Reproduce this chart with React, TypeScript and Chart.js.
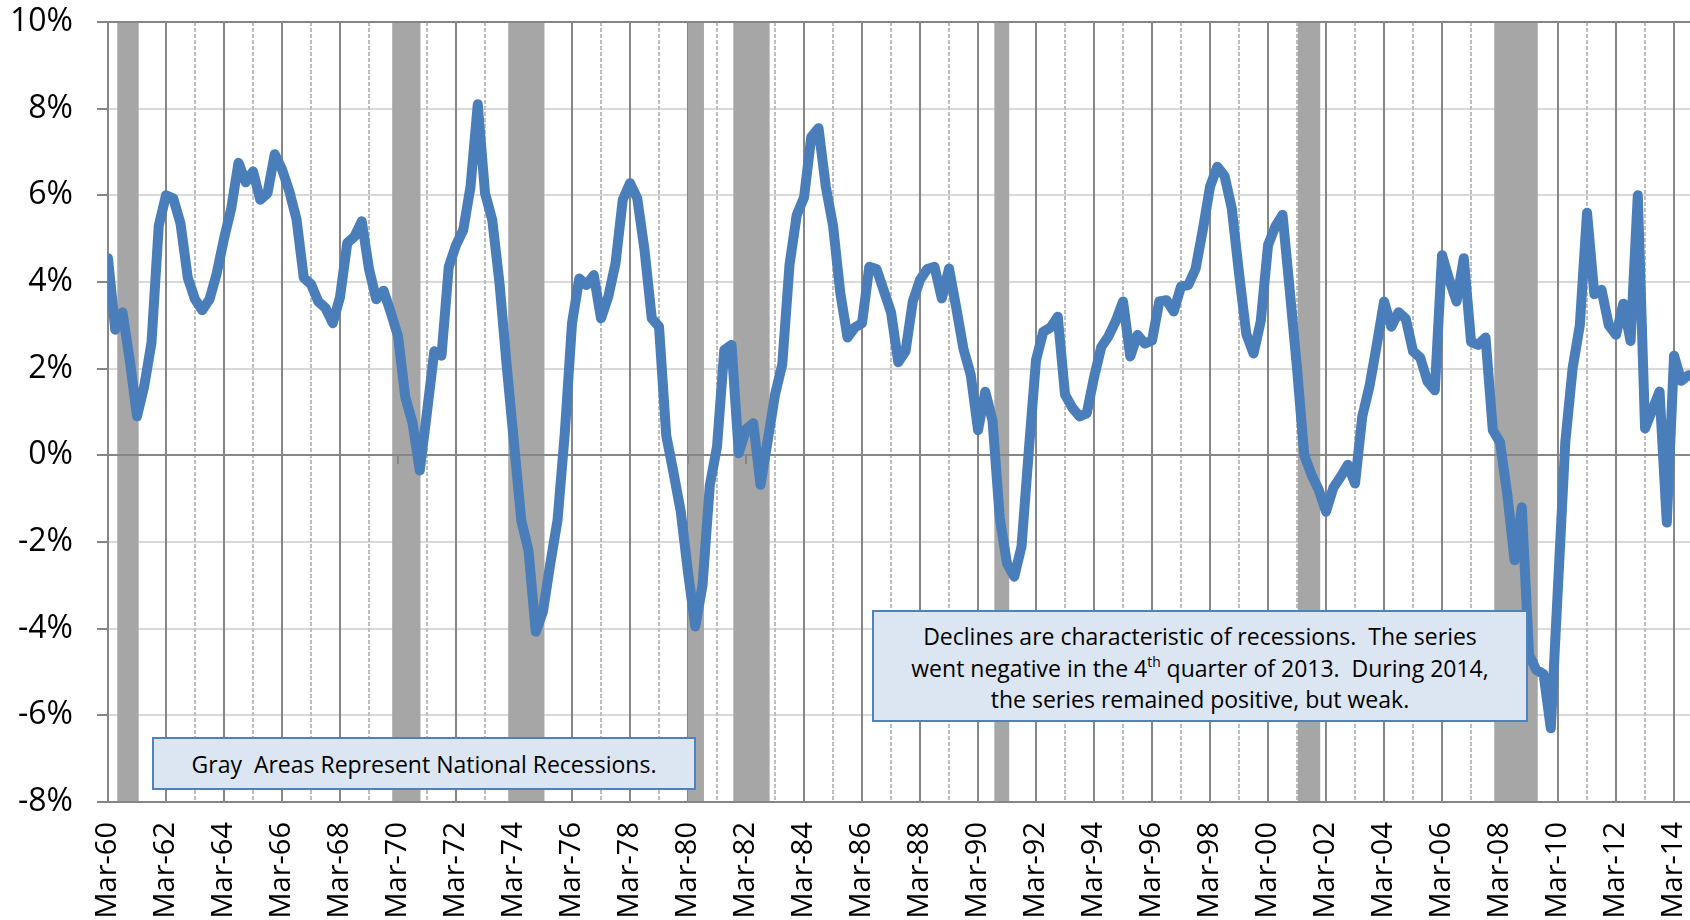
import React, { useEffect, useRef } from "react";
import { Chart, registerables } from "chart.js";

Chart.register(...registerables);

// ---- data ----
const START_YEAR = 1960;
const QUARTER_MONTHS = ["Mar", "Jun", "Sep", "Dec"];

// quarterly series, % (Mar-60 ... Sep-14), four values per year
const VALUES: number[] = [
  4.55, 2.9, 3.3, 2.2, // 1960
  0.9, 1.6, 2.6, 5.3, // 1961
  6.0, 5.93, 5.35, 4.1, // 1962
  3.6, 3.35, 3.6, 4.2, // 1963
  5.0, 5.7, 6.75, 6.3, // 1964
  6.55, 5.9, 6.05, 6.95, // 1965
  6.6, 6.1, 5.45, 4.1, // 1966
  3.95, 3.55, 3.4, 3.05, // 1967
  3.65, 4.9, 5.05, 5.4, // 1968
  4.3, 3.6, 3.8, 3.3, // 1969
  2.75, 1.35, 0.75, -0.35, // 1970
  1.0, 2.4, 2.3, 4.35, // 1971
  4.85, 5.2, 6.2, 8.1, // 1972
  6.05, 5.43, 3.97, 2.05, // 1973
  0.28, -1.5, -2.2, -4.07, // 1974
  -3.6, -2.5, -1.5, 0.5, // 1975
  3.05, 4.08, 3.93, 4.16, // 1976
  3.16, 3.66, 4.43, 5.9, // 1977
  6.28, 5.93, 4.74, 3.16, // 1978
  2.97, 0.45, -0.4, -1.3, // 1979
  -2.7, -3.95, -3.0, -0.7, // 1980
  0.2, 2.43, 2.55, 0.05, // 1981
  0.6, 0.74, -0.68, 0.35, // 1982
  1.4, 2.1, 4.4, 5.55, // 1983
  5.95, 7.35, 7.55, 6.2, // 1984
  5.3, 3.75, 2.72, 2.95, // 1985
  3.05, 4.35, 4.3, 3.8, // 1986
  3.3, 2.15, 2.4, 3.55, // 1987
  4.05, 4.3, 4.35, 3.62, // 1988
  4.31, 3.4, 2.45, 1.85, // 1989
  0.58, 1.47, 0.8, -1.45, // 1990
  -2.5, -2.8, -2.1, 0.1, // 1991
  2.2, 2.85, 2.95, 3.2, // 1992
  1.4, 1.1, 0.9, 0.97, // 1993
  1.8, 2.5, 2.75, 3.1, // 1994
  3.55, 2.28, 2.78, 2.58, // 1995
  2.65, 3.55, 3.58, 3.32, // 1996
  3.9, 3.93, 4.3, 5.2, // 1997
  6.2, 6.66, 6.45, 5.7, // 1998
  4.2, 2.8, 2.35, 3.1, // 1999
  4.85, 5.28, 5.55, 3.8, // 2000
  2.0, 0.0, -0.45, -0.8, // 2001
  -1.3, -0.75, -0.5, -0.22, // 2002
  -0.65, 0.9, 1.6, 2.55, // 2003
  3.55, 2.97, 3.3, 3.15, // 2004
  2.4, 2.25, 1.7, 1.5, // 2005
  4.62, 4.05, 3.55, 4.55, // 2006
  2.62, 2.55, 2.72, 0.58, // 2007
  0.3, -0.9, -2.42, -1.2, // 2008
  -4.6, -4.95, -5.05, -6.3, // 2009
  -3.0, 0.3, 2.0, 3.0, // 2010
  5.6, 3.72, 3.82, 3.0, // 2011
  2.78, 3.5, 2.64, 6.0, // 2012
  0.62, 1.05, 1.47, -1.55, // 2013
  2.3, 1.72, 1.85, // 2014
];

const CATEGORIES = VALUES.map(
  (_, i) =>
    `${QUARTER_MONTHS[i % 4]}-${String((START_YEAR + Math.floor(i / 4)) % 100).padStart(2, "0")}`
);

const TICK_STEP = 8; // quarters between labels
const TICK_LABELS = [
  "Mar-60", "Mar-62", "Mar-64", "Mar-66", "Mar-68", "Mar-70", "Mar-72",
  "Mar-74", "Mar-76", "Mar-78", "Mar-80", "Mar-82", "Mar-84", "Mar-86",
  "Mar-88", "Mar-90", "Mar-92", "Mar-94", "Mar-96", "Mar-98", "Mar-00",
  "Mar-02", "Mar-04", "Mar-06", "Mar-08", "Mar-10", "Mar-12", "Mar-14",
];
const Y_TICKS = [-8, -6, -4, -2, 0, 2, 4, 6, 8, 10];

// recession shading, in quarter units from Mar-60
const REC_START = [1.28, 39.2, 55.2, 80.0, 86.25, 122.25, 164.1, 191.2];
const REC_END = [4.23, 43.1, 60.2, 82.2, 91.26, 124.3, 167.2, 197.2];

const NOTE_1 = "Gray  Areas Represent National Recessions.";
const NOTE_2_LINE_1 = "Declines are characteristic of recessions.  The series";
const NOTE_2_LINE_2A = "went negative in the 4";
const NOTE_2_LINE_2SUP = "th";
const NOTE_2_LINE_2B = " quarter of 2013.  During 2014,";
const NOTE_2_LINE_3 = "the series remained positive, but weak.";

const FONT = "'Open Sans', 'Noto Sans', sans-serif";

export default function App() {
  const ref = useRef<HTMLCanvasElement | null>(null);

  useEffect(() => {
    document.body.style.margin = "0";
    const canvas = ref.current;
    if (!canvas) return;

    const backdrop = {
      id: "backdrop",
      beforeDatasetsDraw(chart: any) {
        const { ctx, chartArea: a, scales } = chart;
        const xs = scales.x;
        const ys = scales.y;
        ctx.save();
        // vertical grid: solid every 2 years, dashed in between
        for (let q = 0; q <= xs.max; q += TICK_STEP / 2) {
          const px = Math.round(xs.getPixelForValue(q));
          ctx.beginPath();
          if (q % TICK_STEP === 0) {
            ctx.setLineDash([]);
            ctx.strokeStyle = "#868686";
          } else {
            ctx.setLineDash([4, 2]);
            ctx.strokeStyle = "#bdbdbd";
          }
          ctx.lineWidth = 2;
          ctx.moveTo(px, a.top);
          ctx.lineTo(px, a.bottom);
          ctx.stroke();
        }
        ctx.setLineDash([]);
        // recession bars
        ctx.fillStyle = "#a6a6a6";
        REC_START.forEach((s, k) => {
          const x0 = xs.getPixelForValue(s);
          const x1 = xs.getPixelForValue(REC_END[k]);
          ctx.fillRect(x0, a.top, x1 - x0, a.bottom - a.top);
        });
        // category axis on 0%
        const y0 = Math.round(ys.getPixelForValue(0));
        ctx.strokeStyle = "#868686";
        ctx.lineWidth = 2;
        ctx.beginPath();
        ctx.moveTo(a.left, y0);
        ctx.lineTo(a.right, y0);
        ctx.stroke();
        for (let q = 0; q <= xs.max; q += TICK_STEP) {
          const px = Math.round(xs.getPixelForValue(q));
          ctx.beginPath();
          ctx.moveTo(px, y0);
          ctx.lineTo(px, y0 + 9);
          ctx.stroke();
        }
        // plot top / bottom border
        ctx.beginPath();
        ctx.moveTo(a.left - 11, a.top);
        ctx.lineTo(a.right, a.top);
        ctx.moveTo(a.left - 11, a.bottom);
        ctx.lineTo(a.right, a.bottom);
        ctx.stroke();
        ctx.restore();
      },
    };

    const noPad = (s: any) => {
      s.paddingLeft = 0;
      s.paddingRight = 0;
      s.paddingTop = 0;
      s.paddingBottom = 0;
    };

    const chart = new Chart(canvas, {
      type: "line",
      data: {
        labels: CATEGORIES,
        datasets: [
          {
            label: "Series",
            data: VALUES.map((v, i) => ({ x: i, y: v })),
            borderColor: "#4a7ebb",
            borderWidth: 10,
            pointRadius: 0,
            tension: 0,
            borderJoinStyle: "round",
            borderCapStyle: "round",
            fill: false,
          },
        ],
      },
      options: {
        responsive: false,
        animation: false,
        devicePixelRatio: 1,
        layout: { padding: { top: 22, left: 0, right: 0, bottom: 0 } },
        plugins: {
          legend: { display: false },
          tooltip: { enabled: false },
        },
        scales: {
          x: {
            type: "linear",
            min: 0,
            max: 218.2,
            afterBuildTicks: (s: any) => {
              s.ticks = TICK_LABELS.map((_, k) => ({ value: k * TICK_STEP }));
            },
            afterFit: (s: any) => {
              s.height = 118;
              noPad(s);
            },
            ticks: {
              autoSkip: false,
              maxRotation: 90,
              minRotation: 90,
              padding: 20,
              color: "#000000",
              font: { family: FONT, size: 29 },
              callback: (_v: any, index: number) => TICK_LABELS[index],
            },
            grid: { display: false, drawTicks: false },
            border: { display: false },
          },
          y: {
            min: -8,
            max: 10,
            afterBuildTicks: (s: any) => {
              s.ticks = Y_TICKS.map((v) => ({ value: v }));
            },
            afterFit: (s: any) => {
              s.width = 108;
              noPad(s);
            },
            ticks: {
              padding: 24,
              color: "#000000",
              font: { family: FONT, size: 32 },
              callback: (v: any) => `${v}%`,
            },
            grid: {
              color: (c: any) =>
                c.tick && (c.tick.value === 0 || c.tick.value === 10 || c.tick.value === -8)
                  ? "#868686"
                  : "#d9d9d9",
              lineWidth: 2,
              tickColor: "#868686",
              tickLength: 11,
              tickWidth: 2,
            },
            border: { color: "#868686", width: 2 },
          },
        },
      },
      plugins: [backdrop],
    } as any);

    return () => chart.destroy();
  }, []);

  const boxBase: React.CSSProperties = {
    position: "absolute",
    boxSizing: "border-box",
    border: "2px solid #4f81bd",
    background: "#dce6f2",
    color: "#000",
    fontFamily: FONT,
    fontSize: 23,
    whiteSpace: "pre",
    textAlign: "center",
  };

  return (
    <div style={{ position: "relative", width: 1690, height: 920, overflow: "hidden", background: "#fff" }}>
      <canvas ref={ref} width={1690} height={920} style={{ display: "block" }} />
      <div
        style={{
          ...boxBase,
          left: 152,
          top: 737,
          width: 544,
          height: 53,
          display: "flex",
          alignItems: "center",
          justifyContent: "center",
        }}
      >
        {NOTE_1}
      </div>
      <div
        style={{
          ...boxBase,
          left: 872,
          top: 610,
          width: 656,
          height: 112,
          lineHeight: "31.7px",
          paddingTop: 9,
        }}
      >
        <div>{NOTE_2_LINE_1}</div>
        <div>
          {NOTE_2_LINE_2A}
          <sup style={{ fontSize: "0.6em", lineHeight: 0, verticalAlign: "0.75em" }}>{NOTE_2_LINE_2SUP}</sup>
          {NOTE_2_LINE_2B}
        </div>
        <div>{NOTE_2_LINE_3}</div>
      </div>
    </div>
  );
}
